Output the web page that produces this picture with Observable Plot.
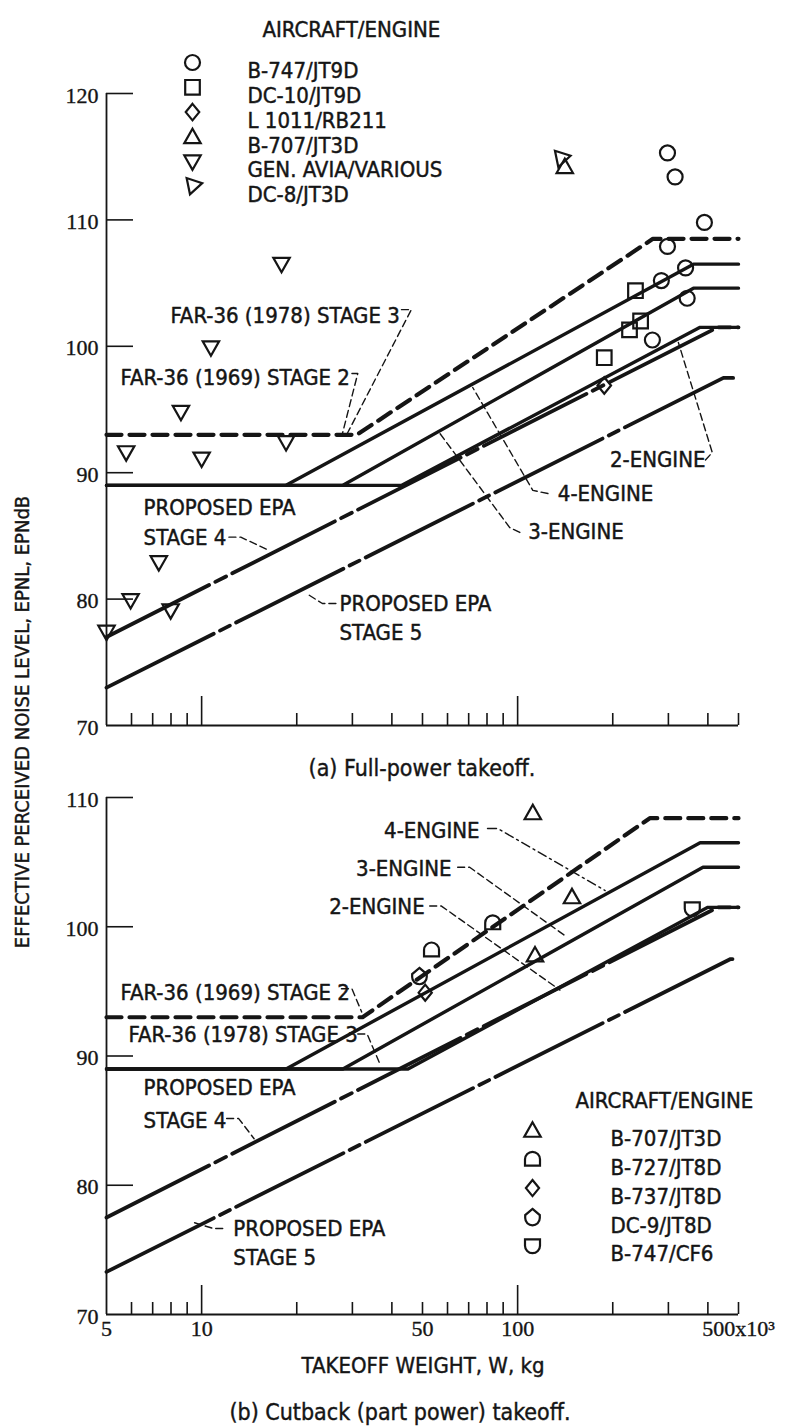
<!DOCTYPE html>
<html><head><meta charset="utf-8">
<script src="https://cdn.jsdelivr.net/npm/d3@7"></script>
<script src="https://cdn.jsdelivr.net/npm/@observablehq/plot@0.6"></script>
<style>
body{margin:0;background:#fff;}
#wrap{position:relative;width:798px;height:1427px;background:#fff;overflow:hidden;
  font-family:"Liberation Sans Narrow","DejaVu Sans Condensed","Arial Narrow",sans-serif;color:#151515;}
.abs{position:absolute;white-space:nowrap;line-height:1;-webkit-text-stroke:0.4px #151515;}
</style></head><body><div id="wrap"></div>
<script>
// ---------------- DATA ----------------
const yTicksA = [70, 80, 90, 100, 110, 120];
const yTicksB = [70, 80, 90, 100, 110];
const xMajorTicks = [10, 100];
const xMinorTicks = [6, 7, 8, 9, 20, 30, 40, 50, 60, 70, 80, 90, 200, 300, 400, 500];
const xTickLabels = [5, 10, 50, 100, 500];

// Panel (a) full-power takeoff: reference lines (W in 10^3 kg, EPNL in EPNdB)
const aStage2W = [5, 31, 268, 500],  aStage2L = [93, 93, 108.5, 108.5];
const a4EngW   = [5, 18.5, 360, 500], a4EngL   = [89, 89, 106.5, 106.5];
const a3EngW   = [5, 28, 360, 500],   a3EngL   = [89, 89, 104.6, 104.6];
const a2EngW   = [5, 43, 378, 500],   a2EngL   = [89, 89, 101.5, 101.5];
const aStage4W = [5, 430, 500],       aStage4L = [77, 101.5, 101.5];
const aStage5W = [5, 448, 500],       aStage5L = [73, 97.5, 97.5];

// Panel (a) aircraft points
const a747W  = [298, 315, 390, 298, 340, 285, 344, 267];
const a747L  = [115.3, 113.4, 109.8, 107.9, 106.2, 105.2, 103.8, 100.5];
const aDC10W = [236, 245, 226, 188];
const aDC10L = [104.4, 102.0, 101.3, 99.1];
const aL1011W = [188], aL1011L = [96.9];
const a707W = [141], a707L = [114.2];
const aGAW = [5, 5.96, 7.98, 7.32, 5.77, 10.0, 18.5, 8.6, 10.7, 17.9];
const aGAL = [77.4, 79.9, 79.1, 82.9, 91.6, 91.1, 92.4, 94.8, 99.9, 106.5];
const aDC8W = [137], aDC8L = [114.8];

// Panel (a) annotations
const aLabelText = ["FAR-36 (1978) STAGE 3", "FAR-36 (1969) STAGE 2", "PROPOSED EPA", "STAGE 4",
                    "PROPOSED EPA", "STAGE 5", "2-ENGINE", "4-ENGINE", "3-ENGINE"];
const aLabelW = [7.97, 5.54, 6.55, 6.55, 27.3, 27.3, 196, 134, 108];
const aLabelL = [102.4, 97.5, 87.2, 84.8, 79.65, 77.36, 91.0, 88.35, 85.3];
const aLeaderW = [[42.9, 46.1, 28.9], [29.9, 31.2, 27.9], [12.2, 13.3, 16.35], [26.6, 24.1, 21.6],
                  [393, 413, 322.6], [124.7, 111.7, 72.1], [101.6, 94.4, 56]];
const aLeaderL = [[102.9, 102.9, 93.1], [97.85, 97.85, 93.1], [84.9, 84.9, 83.85], [79.65, 79.65, 80.4],
                  [91, 91.6, 100.3], [88.35, 88.6, 96.74], [85.27, 85.66, 93.3]];
const aLegendNames = ["B-747/JT9D", "DC-10/JT9D", "L 1011/RB211", "B-707/JT3D", "GEN. AVIA/VARIOUS", "DC-8/JT3D"];

// Panel (b) cutback takeoff: reference lines
const bStage2W = [5, 32.3, 262, 500],  bStage2L = [93, 93, 108.4, 108.4];
const b4EngW   = [5, 18.5, 378, 500],  b4EngL   = [89, 89, 106.5, 106.5];
const b3EngW   = [5, 28, 386, 500],    b3EngL   = [89, 89, 104.6, 104.6];
const b2EngW   = [5, 45, 400, 500],    b2EngL   = [89, 89, 101.5, 101.5];
const bStage4W = [5, 430, 500],        bStage4L = [77.5, 101.5, 101.5];
const bStage5W = [5, 472, 500],        bStage5L = [73.3, 97.5, 97.5];

// Panel (b) aircraft points
const b707W = [111.7, 148.6, 113.5], b707L = [108.8, 102.3, 97.8];
const b727W = [83.4, 53.4],          b727L = [100.3, 98.2];
const b737W = [51],                  b737L = [94.9];
const bDC9W = [48.9],                bDC9L = [96.2];
const b747W = [357],                 b747L = [101.4];

// Panel (b) annotations
const bEndText = ["4-ENGINE", "3-ENGINE", "2-ENGINE"];
const bEndW = [75.8, 61.8, 50.8], bEndL = [107.45, 104.5, 101.5];
const bLabelText = ["FAR-36 (1969) STAGE 2", "FAR-36 (1978) STAGE 3", "PROPOSED EPA", "STAGE 4", "PROPOSED EPA", "STAGE 5"];
const bLabelW = [5.54, 5.87, 6.55, 6.55, 12.6, 12.6];
const bLabelL = [94.9, 91.6, 87.5, 85.0, 76.65, 74.4];
const bLeaderW = [[80.3, 86.5, 189.2], [64.6, 70.5, 143.3], [52.7, 57.4, 136.1], [27.7, 29.9, 32.1],
                  [31.2, 33.4, 36.5], [12.0, 13.1, 14.66], [9.5, 10.9, 12.0]];
const bLeaderL = [[107.6, 107.6, 102.8], [104.6, 104.6, 99.2], [101.6, 101.6, 95.1], [95.2, 95.2, 93.4],
                  [91.7, 91.7, 89.5], [85.16, 85.16, 83.6], [77.1, 76.65, 76.65]];
const bLegendNames = ["B-707/JT3D", "B-727/JT8D", "B-737/JT8D", "DC-9/JT8D", "B-747/CF6"];

// ---------------- DRAWING ----------------
const INK = "#151515";
const FONT = '"Liberation Sans Narrow","DejaVu Sans Condensed","Arial Narrow",sans-serif';
const NUMFONT = '"Liberation Serif","DejaVu Serif",serif';
const FS = 22;
const tbl = (W, L) => W.map((w, i) => ({w, l: L[i]}));

// custom symbols (r = sqrt(size/pi))
const rr = s => Math.sqrt(s / Math.PI);
const domeSym = {draw(c, s){ const r = rr(s); c.moveTo(-r, r*0.85); c.lineTo(-r, 0); c.arc(0, 0, r, Math.PI, 0); c.lineTo(r, r*0.85); c.closePath(); }};
const cupSym  = {draw(c, s){ const r = rr(s); c.moveTo(-r, -r*0.85); c.lineTo(r, -r*0.85); c.lineTo(r, 0); c.arc(0, 0, r, 0, Math.PI); c.closePath(); }};
const houseSym = {draw(c, s){ const r = rr(s); c.moveTo(0, -r*1.1); c.lineTo(r, -r*0.25); c.lineTo(r, 0.15*r); c.arc(0, 0.15*r, r, 0, Math.PI); c.lineTo(-r, -r*0.25); c.closePath(); }};
const diaSym  = {draw(c, s){ const r = rr(s); c.moveTo(0, -r*1.1); c.lineTo(r*0.9, 0); c.lineTo(0, r*1.1); c.lineTo(-r*0.9, 0); c.closePath(); }};
const triSym  = {draw(c, s){ const r = rr(s); c.moveTo(0, -r*1.05); c.lineTo(r*1.05, r*0.8); c.lineTo(-r*1.05, r*0.8); c.closePath(); }};
const squareSym = {draw(c, s){ const r = rr(s); c.rect(-r, -r, 2*r, 2*r); }};
const DC8_ROT = 198;

const frameW = 798 - 106 - 60;
const lineW = 3.8;
const textStyle = {fontSize: FS, fontFamily: FONT, fill: INK, stroke: INK, strokeWidth: 0.45};
const numStyle = {fontSize: 22, fontFamily: NUMFONT, fill: INK, stroke: INK, strokeWidth: 0.35};

function refLines(set) {
  return [
    Plot.line(tbl(set.s5W, set.s5L), {x: "w", y: "l", stroke: INK, strokeWidth: lineW, strokeDasharray: "120,7,11,7"}),
    Plot.line(tbl(set.s4W, set.s4L), {x: "w", y: "l", stroke: INK, strokeWidth: lineW, strokeDasharray: "115,7,12,7"}),
    Plot.line(tbl(set.e2W, set.e2L), {x: "w", y: "l", stroke: INK, strokeWidth: lineW - 0.4}),
    Plot.line(tbl(set.e3W, set.e3L), {x: "w", y: "l", stroke: INK, strokeWidth: lineW - 0.4}),
    Plot.line(tbl(set.e4W, set.e4L), {x: "w", y: "l", stroke: INK, strokeWidth: lineW - 0.4}),
    Plot.line(tbl(set.s2W, set.s2L), {x: "w", y: "l", stroke: INK, strokeWidth: lineW + 0.4, strokeDasharray: "15,8"})
  ];
}

function axisMarks(yTicks, yMax, frameH, showXLabels) {
  const m = [
    Plot.tickY(yTicks.filter(t => t > 70), {y: d => d, stroke: INK, strokeWidth: 1.6, insetRight: frameW - 27}),
    Plot.tickX(xMajorTicks, {x: d => d, stroke: INK, strokeWidth: 1.6, insetTop: frameH - 29}),
    Plot.tickX(xMinorTicks, {x: d => d, stroke: INK, strokeWidth: 1.6, insetTop: frameH - 12}),
    Plot.ruleX([5], {y1: 70, y2: yMax, stroke: INK, strokeWidth: 1.8}),
    Plot.ruleY([70], {x1: 5, x2: 500, stroke: INK, strokeWidth: 1.8}),
    Plot.text(yTicks, {y: d => d, text: d => String(d), frameAnchor: "left", dx: -8, dy: 2, textAnchor: "end", ...numStyle})
  ];
  if (showXLabels) m.push(Plot.text(xTickLabels, {x: d => d, text: d => d === 500 ? "500x10\u00B3" : String(d),
      frameAnchor: "bottom", dy: 21, ...numStyle}));
  return m;
}

function leaders(Ws, Ls, dashes) {
  return Ws.map((W, i) => Plot.line(tbl(W, Ls[i]), {x: "w", y: "l", stroke: INK, strokeWidth: 1.4,
    strokeDasharray: dashes && dashes[i] ? dashes[i] : "7,4"}));
}

const txt = (T, W, L, anchor) => Plot.text(T.map((t, i) => ({t, w: W[i], l: L[i]})),
  {x: "w", y: "l", text: "t", textAnchor: anchor, ...textStyle});

const dots = (W, L, symbol, r, extra = {}) => Plot.dot(tbl(W, L),
  {x: "w", y: "l", symbol, r, stroke: INK, strokeWidth: 2.2, fill: "none", ...extra});

// ---------- Panel (a) ----------
const topH = 760, topMT = 93, topMB = 35;
const aMarks = [
  ...axisMarks(yTicksA, 120, topH - topMT - topMB, false),
  ...refLines({s2W: aStage2W, s2L: aStage2L, e4W: a4EngW, e4L: a4EngL, e3W: a3EngW, e3L: a3EngL,
               e2W: a2EngW, e2L: a2EngL, s4W: aStage4W, s4L: aStage4L, s5W: aStage5W, s5L: aStage5L}),
  ...leaders(aLeaderW, aLeaderL),
  txt(aLabelText, aLabelW, aLabelL, "start"),
  dots(a747W, a747L, "circle", 7.5),
  dots(aDC10W, aDC10L, squareSym, 7.3),
  dots(aL1011W, aL1011L, diaSym, 7.5),
  dots(a707W, a707L, triSym, 7.8),
  dots(aGAW, aGAL, triSym, 7.8, {rotate: 180}),
  dots(aDC8W, aDC8L, triSym, 7.8, {rotate: DC8_ROT})
];
const aLegSym = [["circle", 7.5, 0], [squareSym, 7.3, 0], [diaSym, 7.5, 0], [triSym, 7.8, 0], [triSym, 7.8, 180], [triSym, 7.8, DC8_ROT]];
aMarks.push(Plot.text(["AIRCRAFT/ENGINE"], {frameAnchor: "top-left", dx: 156, dy: -72, textAnchor: "start", ...textStyle}));
aLegendNames.forEach((name, i) => {
  const dy = -31 + 24.8 * i;
  aMarks.push(Plot.dot([0], {frameAnchor: "top-left", dx: 86, dy, symbol: aLegSym[i][0], r: aLegSym[i][1], rotate: aLegSym[i][2], stroke: INK, strokeWidth: 2.2, fill: "none"}));
  aMarks.push(Plot.text([name], {frameAnchor: "top-left", dx: 141, dy, textAnchor: "start", ...textStyle}));
});

const topPlot = Plot.plot({
  width: 798, height: topH, marginLeft: 106, marginRight: 60, marginTop: topMT, marginBottom: topMB,
  x: {type: "log", domain: [5, 500], axis: null},
  y: {domain: [70, 120], axis: null},
  style: {background: "transparent", color: INK, fontFamily: FONT, overflow: "visible"},
  marks: aMarks
});

// ---------- Panel (b) ----------
const botH = 667, botMT = 37, botMB = 113;
const bMarks = [
  ...axisMarks(yTicksB, 110, botH - botMT - botMB, true),
  ...refLines({s2W: bStage2W, s2L: bStage2L, e4W: b4EngW, e4L: b4EngL, e3W: b3EngW, e3L: b3EngL,
               e2W: b2EngW, e2L: b2EngL, s4W: bStage4W, s4L: bStage4L, s5W: bStage5W, s5L: bStage5L}),
  ...leaders(bLeaderW, bLeaderL, ["9,4,2,4"]),
  txt(bEndText, bEndW, bEndL, "end"),
  txt(bLabelText, bLabelW, bLabelL, "start"),
  dots(b707W, b707L, triSym, 7.8),
  dots(b727W, b727L, domeSym, 7.5),
  dots(b737W, b737L, diaSym, 7.3),
  dots(bDC9W, bDC9L, houseSym, 7.3),
  dots(b747W, b747L, cupSym, 7.5)
];
const bLegSym = [[triSym, 7.8], [domeSym, 7.5], [diaSym, 7.3], [houseSym, 7.3], [cupSym, 7.5]];
bMarks.push(Plot.text(["AIRCRAFT/ENGINE"], {frameAnchor: "top-left", dx: 469, dy: 295, textAnchor: "start", ...textStyle}));
bLegendNames.forEach((name, i) => {
  const dy = 333 + 28.8 * i;
  bMarks.push(Plot.dot([0], {frameAnchor: "top-left", dx: 426, dy, symbol: bLegSym[i][0], r: bLegSym[i][1], stroke: INK, strokeWidth: 2.2, fill: "none"}));
  bMarks.push(Plot.text([name], {frameAnchor: "top-left", dx: 504, dy, textAnchor: "start", ...textStyle}));
});

const botPlot = Plot.plot({
  width: 798, height: botH, marginLeft: 106, marginRight: 60, marginTop: botMT, marginBottom: botMB,
  x: {type: "log", domain: [5, 500], axis: null},
  y: {domain: [70, 110], axis: null},
  style: {background: "transparent", color: INK, fontFamily: FONT, overflow: "visible"},
  marks: bMarks
});

// ---------- Layout ----------
const wrap = document.getElementById("wrap");
topPlot.style.position = "absolute"; topPlot.style.left = "0px"; topPlot.style.top = "0px";
botPlot.style.position = "absolute"; botPlot.style.left = "0px"; botPlot.style.top = "760px";
wrap.appendChild(topPlot);
wrap.appendChild(botPlot);

function addText(t, x, y, size, rot) {
  const d = document.createElement("div");
  d.className = "abs";
  d.textContent = t;
  d.style.left = x + "px"; d.style.top = y + "px"; d.style.fontSize = size + "px";
  d.style.transform = "translate(-50%,-50%)" + (rot ? " rotate(" + rot + "deg)" : "");
  wrap.appendChild(d);
}
addText("(a) Full-power takeoff.", 422, 768, 23);
addText("EFFECTIVE PERCEIVED NOISE LEVEL, EPNL, EPNdB", 22, 722, 20, -90);
addText("TAKEOFF WEIGHT, W, kg", 423, 1366, 22);
addText("(b) Cutback (part power) takeoff.", 400, 1412, 23);
</script>
</body></html>
